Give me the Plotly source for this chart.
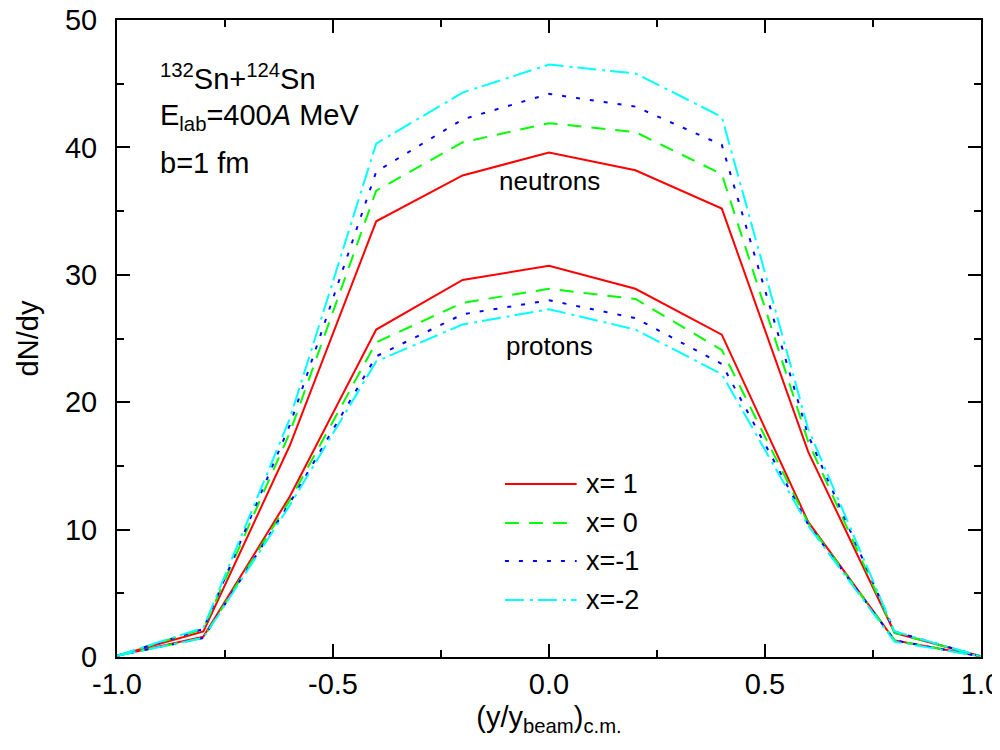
import plotly.graph_objects as go

# ---- data ----
rapidity = [-1.0, -0.8, -0.6, -0.4, -0.2, 0.0, 0.2, 0.4, 0.6, 0.8, 1.0]

series_names = ["x= 1", "x= 0", "x=-1", "x=-2"]

neutrons_x1 = [0.1, 2.0, 16.6, 34.2, 37.8, 39.6, 38.2, 35.2, 16.1, 1.9, 0.05]
neutrons_x0 = [0.1, 2.2, 17.6, 36.6, 40.4, 41.9, 41.2, 37.9, 16.9, 1.9, 0.05]
neutrons_xm1 = [0.1, 2.2, 18.2, 38.1, 42.2, 44.2, 43.2, 40.2, 17.4, 2.0, 0.05]
neutrons_xm2 = [0.1, 2.3, 18.7, 40.3, 44.3, 46.5, 45.8, 42.4, 17.9, 2.0, 0.05]

protons_x1 = [0.1, 1.6, 12.6, 25.7, 29.6, 30.7, 28.9, 25.3, 10.6, 1.3, 0.05]
protons_x0 = [0.1, 1.5, 12.3, 24.7, 27.8, 28.9, 28.1, 24.1, 10.5, 1.3, 0.05]
protons_xm1 = [0.1, 1.5, 12.1, 23.6, 26.9, 28.0, 26.6, 23.0, 10.4, 1.3, 0.05]
protons_xm2 = [0.1, 1.5, 11.9, 23.2, 26.1, 27.3, 25.7, 22.2, 10.3, 1.2, 0.05]

neutron_series = [neutrons_x1, neutrons_x0, neutrons_xm1, neutrons_xm2]
proton_series = [protons_x1, protons_x0, protons_xm1, protons_xm2]

x_tick_vals = [-1.0, -0.5, 0.0, 0.5, 1.0]
x_tick_text = ["-1.0", "-0.5", "0.0", "0.5", "1.0"]
y_tick_vals = [0, 10, 20, 30, 40, 50]
y_tick_text = ["0", "10", "20", "30", "40", "50"]

# ---- styles ----
colors = ["#FF0000", "#00FF00", "#0000FF", "#00FFFF"]
dashes = ["solid", "14px,10px", "4px,10px", "19px,6px,3px,5px"]
FONT = "Liberation Sans, Arial, Helvetica, sans-serif"

fig = go.Figure()

for i in range(4):
    for kind, data in (("neutrons", neutron_series[i]), ("protons", proton_series[i])):
        fig.add_trace(go.Scatter(
            x=rapidity, y=data, mode="lines",
            name=f"{series_names[i]} ({kind})",
            line=dict(color=colors[i], width=2, dash=dashes[i]),
            showlegend=False,
        ))

# ---- manual legend (long line samples like the original) ----
legend_rows_y = [0.2716, 0.2104, 0.1507, 0.0895]
for i in range(4):
    fig.add_shape(type="line", xref="paper", yref="paper",
                  x0=0.449, x1=0.532, y0=legend_rows_y[i], y1=legend_rows_y[i],
                  line=dict(color=colors[i], width=2, dash=dashes[i]))
    fig.add_annotation(xref="paper", yref="paper", x=0.541, y=legend_rows_y[i],
                       xanchor="left", yanchor="middle", showarrow=False,
                       text=series_names[i], font=dict(family=FONT, size=27, color="black"))

# ---- text annotations ----
info_lines = ["<sup>132</sup>Sn+<sup>124</sup>Sn", "E<sub>lab</sub>=400<i>A</i> MeV", "b=1 fm"]
info_y = [0.911, 0.848, 0.776]
for t, yy in zip(info_lines, info_y):
    fig.add_annotation(xref="paper", yref="paper", x=0.0475, y=yy,
                       xanchor="left", yanchor="middle", showarrow=False,
                       text=t, font=dict(family=FONT, size=29, color="black"))

fig.add_annotation(xref="paper", yref="paper", x=0.5, y=0.747, xanchor="center", yanchor="middle",
                   showarrow=False, text="neutrons", font=dict(family=FONT, size=26, color="black"))
fig.add_annotation(xref="paper", yref="paper", x=0.5, y=0.489, xanchor="center", yanchor="middle",
                   showarrow=False, text="protons", font=dict(family=FONT, size=26, color="black"))

axis_common = dict(
    showline=True, linewidth=2, linecolor="black", mirror="ticks",
    ticks="inside", ticklen=13, tickwidth=2, tickcolor="black",
    showgrid=False, zeroline=False, ticklabeloverflow="allow",
    tickfont=dict(family=FONT, size=29, color="black"),
)

fig.update_xaxes(
    range=[-1.0, 1.0], tickvals=x_tick_vals, ticktext=x_tick_text,
    minor=dict(ticks="inside", ticklen=7, tickwidth=2, tickcolor="black", dtick=0.25, showgrid=False),
    title=dict(text="(y/y<sub>beam</sub>)<sub>c.m.</sub>", font=dict(family=FONT, size=29, color="black"), standoff=8),
    ticklabelstandoff=0,
    **axis_common,
)
fig.update_yaxes(
    range=[0, 50], tickvals=y_tick_vals, ticktext=y_tick_text,
    minor=dict(ticks="inside", ticklen=7, tickwidth=2, tickcolor="black", dtick=5, showgrid=False),
    title=dict(text="dN/dy", font=dict(family=FONT, size=29, color="black"), standoff=18),
    ticklabelstandoff=12,
    **axis_common,
)

fig.update_layout(
    width=1000, height=750,
    margin=dict(l=109, r=27, t=12, b=101, autoexpand=False),
    paper_bgcolor="white", plot_bgcolor="white",
    font=dict(family=FONT, color="black"),
)
fig.update_xaxes(automargin=False)
fig.update_yaxes(automargin=False)

fig.write_html("out.html")
